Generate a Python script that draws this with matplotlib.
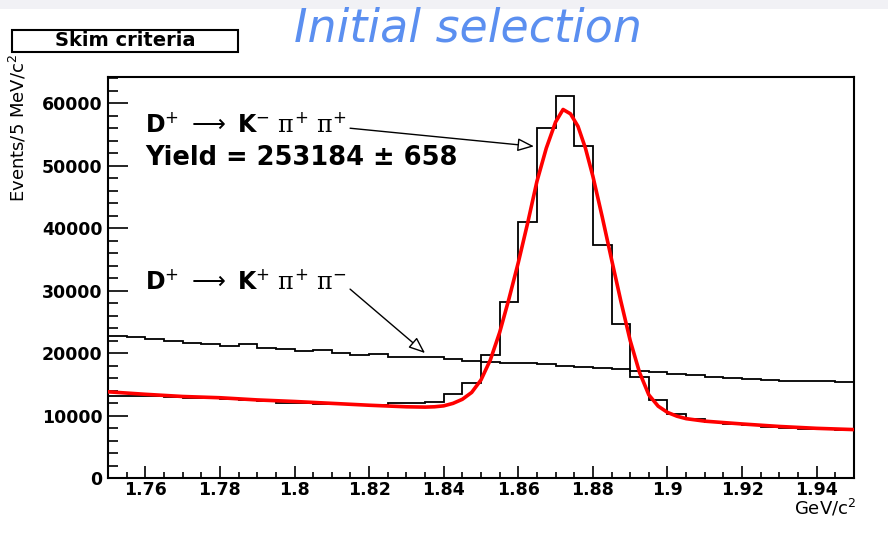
import matplotlib
matplotlib.use('Agg')
import matplotlib.pyplot as plt
import numpy as np
from matplotlib.patches import Rectangle
from matplotlib.ticker import MultipleLocator

plt.rcParams['font.family'] = ['DejaVu Sans']
plt.rcParams['mathtext.fontset'] = 'custom'
plt.rcParams['mathtext.rm'] = 'DejaVu Sans'
plt.rcParams['mathtext.bf'] = 'DejaVu Sans:bold'
plt.rcParams['mathtext.it'] = 'DejaVu Serif'

# ---------------- data ----------------
mass_lo = 1.75
bin_width = 0.005

signal_counts = [13150, 13100, 13100, 12900, 12850, 12850, 12600, 12500, 12350, 12050,
                 12000, 11900, 11850, 11750, 11700, 11950, 11950, 12210, 13400, 15200,
                 19700, 28200, 41000, 56000, 61100, 53100, 37300, 24600, 16200, 12480,
                 10300, 9420, 9000, 8600, 8480, 8210, 7950, 7790, 7800, 7700]

wrong_sign_counts = [22700, 22500, 22200, 22000, 21650, 21450, 21100, 21500, 20800, 20600,
                     20350, 20500, 20000, 19700, 19800, 19450, 19450, 19400, 19100, 18800,
                     18600, 18400, 18450, 18250, 18000, 17750, 17550, 17390, 17170, 16960,
                     16640, 16430, 16210, 16000, 15890, 15730, 15570, 15520, 15520, 15360]

fit_mass = [1.750, 1.760, 1.770, 1.780, 1.790, 1.800, 1.810, 1.820, 1.830, 1.835,
            1.8375, 1.840, 1.8425, 1.845, 1.8475, 1.850, 1.8525, 1.855, 1.8575, 1.860,
            1.8625, 1.865, 1.8675, 1.870, 1.872, 1.874, 1.876, 1.878, 1.880, 1.8825,
            1.885, 1.8875, 1.890, 1.8925, 1.895, 1.8975, 1.900, 1.9025, 1.905, 1.910,
            1.920, 1.930, 1.940, 1.950]
fit_value = [13800, 13400, 13050, 12850, 12500, 12250, 11950, 11650, 11400, 11350,
             11400, 11550, 11950, 12600, 13700, 15700, 18900, 23300, 28700, 34500,
             40800, 47500, 52800, 57000, 59000, 58300, 56300, 52800, 48300, 41800,
             35000, 28300, 22000, 16900, 13300, 11500, 10500, 9900, 9500, 9100,
             8650, 8250, 7950, 7750]

x_ticks = [1.76, 1.78, 1.80, 1.82, 1.84, 1.86, 1.88, 1.90, 1.92, 1.94]
x_tick_labels = ['1.76', '1.78', '1.8', '1.82', '1.84', '1.86', '1.88', '1.9', '1.92', '1.94']
y_ticks = [0, 10000, 20000, 30000, 40000, 50000, 60000]
y_tick_labels = ['0', '10000', '20000', '30000', '40000', '50000', '60000']

# ---------------- figure ----------------
W, H = 888, 540
fig = plt.figure(figsize=(W / 100, H / 100), dpi=100)
fig.patch.set_facecolor('white')
fig.add_artist(Rectangle((0, 1 - 9 / H), 1, 9 / H, transform=fig.transFigure,
                         color='#f1f1f5', zorder=0, lw=0))

ax = fig.add_axes([108 / W, 1 - 478 / H, (854 - 108) / W, (478 - 77) / H])

edges = mass_lo + bin_width * np.arange(len(signal_counts) + 1)
ax.stairs(signal_counts, edges, baseline=None, color='black', lw=1.3, zorder=2)
ax.stairs(wrong_sign_counts, edges, baseline=None, color='black', lw=1.3, zorder=2)
ax.plot(fit_mass, fit_value, color='#ff0000', lw=2.6, zorder=3, solid_joinstyle='round')

ax.set_xlim(1.75, 1.95)
ax.set_ylim(0, 64200)

for s in ax.spines.values():
    s.set_linewidth(1.5)

ax.set_xticks(x_ticks, labels=x_tick_labels)
ax.set_yticks(y_ticks, labels=y_tick_labels)
ax.xaxis.set_minor_locator(MultipleLocator(0.005))
ax.yaxis.set_minor_locator(MultipleLocator(2000))
ax.tick_params(which='both', direction='in', top=False, right=False, width=1.2)
ax.tick_params(axis='y', which='major', length=14.4, pad=4)
ax.tick_params(axis='y', which='minor', length=7.2)
ax.tick_params(axis='x', which='major', length=8.6, pad=2.5)
ax.tick_params(axis='x', which='minor', length=4.3)
for lab in ax.get_xticklabels() + ax.get_yticklabels():
    lab.set_fontsize(12.5)
    lab.set_fontweight('bold')

# axis titles
fig.text(18 / W, 1 - 54 / H, 'Events/5 MeV/c$^{2}$', rotation=90, ha='center', va='top',
         fontsize=13)
fig.text(856 / W, 1 - 519 / H, 'GeV/c$^{2}$', ha='right', va='bottom', fontsize=13)

# title and skim box
fig.text(468 / W, 1 - 42 / H, 'Initial selection', fontsize=33, style='italic',
         color='#5b8ff0', ha='center', va='baseline')
fig.add_artist(Rectangle((12 / W, 1 - 52 / H), 226 / W, 22 / H, transform=fig.transFigure,
                         fill=False, ec='black', lw=1.5))
fig.text(125 / W, 1 - 41 / H, 'Skim criteria', ha='center', va='center', fontsize=14,
         fontweight='bold')

# annotations
ax.text(1.7599, 55200, r'$\mathbf{D}^{+}\ \longrightarrow\ \mathbf{K}^{-}\ \pi^{+}\ \pi^{+}$',
        fontsize=17, ha='left', va='baseline')
ax.text(1.7599, 50080, 'Yield = 253184 ± 658', fontsize=18.5, fontweight='bold',
        ha='left', va='baseline')
ax.text(1.7599, 30080, r'$\mathbf{D}^{+}\ \longrightarrow\ \mathbf{K}^{+}\ \pi^{+}\ \pi^{-}$',
        fontsize=17, ha='left', va='baseline')

arrow_style = dict(arrowstyle='-|>,head_length=1.0,head_width=0.4', mutation_scale=10,
                   fc='white', ec='black', lw=1.0, shrinkA=0, shrinkB=0)
ax.annotate('', xy=(1.8642, 53100), xytext=(1.8149, 56000), arrowprops=arrow_style)
ax.annotate('', xy=(1.8350, 20000), xytext=(1.8149, 30240), arrowprops=arrow_style)

fig.savefig('out.png', dpi=100)
